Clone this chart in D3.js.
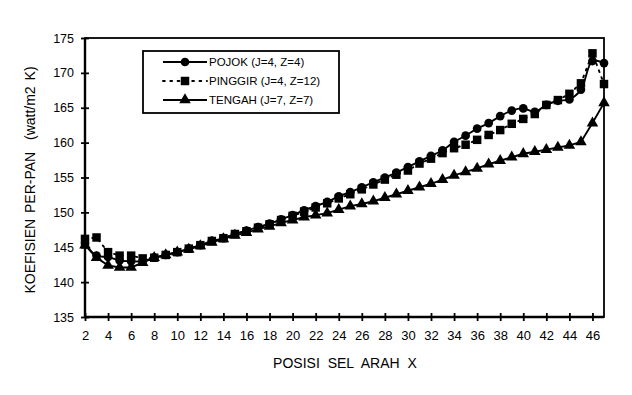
<html>
<style>
body { margin: 0; background: #fff; }
text { font-family: "Liberation Sans", Arial, sans-serif; fill: #000; }
.axis .domain { display: none; }
</style>
<body>
<script src="https://cdn.jsdelivr.net/npm/d3@7"></script>
<script>

var posisi = d3.range(2, 48); // 2..47

var pojok = [145.5, 143.8, 143.6, 143.1, 143.0, 143.0, 143.5, 143.9, 144.3, 144.8,
             145.3, 145.9, 146.3, 146.9, 147.4, 147.9, 148.4, 149.0, 149.6, 150.3,
             150.9, 151.5, 152.3, 152.9, 153.6, 154.3, 155.0, 155.7, 156.5, 157.3,
             158.1, 158.9, 160.1, 161.0, 162.0, 162.8, 163.8, 164.6, 164.9, 164.4,
             165.4, 166.0, 166.2, 167.6, 171.7, 171.4];

var pinggir = [146.2, 146.4, 144.3, 143.8, 143.8, 143.4, 143.5, 143.9, 144.3, 144.8,
               145.3, 145.9, 146.3, 146.9, 147.3, 147.8, 148.3, 148.9, 149.5, 150.1,
               150.7, 151.3, 152.0, 152.6, 153.3, 154.0, 154.7, 155.4, 156.0, 157.0,
               157.7, 158.5, 159.2, 159.7, 160.4, 161.1, 161.8, 162.7, 163.4, 164.1,
               165.4, 166.1, 167.0, 168.5, 172.8, 168.4];

var tengah = [145.3, 143.5, 142.4, 142.1, 142.1, 142.8, 143.5, 143.9, 144.3, 144.7,
              145.2, 145.7, 146.2, 146.7, 147.1, 147.6, 148.0, 148.5, 148.9, 149.3,
              149.6, 149.9, 150.4, 150.9, 151.2, 151.6, 152.1, 152.6, 153.1, 153.6,
              154.1, 154.7, 155.3, 155.8, 156.3, 156.9, 157.4, 157.9, 158.4, 158.7,
              159.0, 159.3, 159.6, 160.1, 162.8, 165.7];

var xTicks = d3.range(2, 47, 2);
var yTicks = d3.range(135, 176, 5);

var seriesNames = ["POJOK (J=4, Z=4)", "PINGGIR (J=4, Z=12)", "TENGAH (J=7, Z=7)"];

var series = [
  { name: seriesNames[0], values: pojok, symbol: d3.symbolCircle, size: 60, dash: null, curve: d3.curveCatmullRom },
  { name: seriesNames[1], values: pinggir, symbol: d3.symbolSquare, size: 72, dash: "1.8,5.5", curve: d3.curveLinear },
  { name: seriesNames[2], values: tengah, symbol: d3.symbolTriangle, size: 58, dash: null, curve: d3.curveLinear }
];

var W = 632, H = 395;
var margin = {top: 38, right: 28, bottom: 78, left: 85},
    width = W - margin.left - margin.right,
    height = H - margin.top - margin.bottom;

var svg = d3.select("body").append("svg")
    .attr("width", W)
    .attr("height", H);
var g = svg.append("g").attr("transform", "translate(" + margin.left + "," + margin.top + ")");

var x = d3.scaleLinear().domain([2, 47]).range([0, width]);
var y = d3.scaleLinear().domain([135, 175]).range([height, 0]);

// frame
g.append("rect")
    .attr("x", 0).attr("y", 0)
    .attr("width", width).attr("height", height)
    .attr("fill", "none")
    .attr("stroke", "#000")
    .attr("stroke-width", 1.8);
g.append("line").attr("x1", 0).attr("x2", 0).attr("y1", 0).attr("y2", height)
    .attr("stroke", "#000").attr("stroke-width", 2.4);
g.append("line").attr("x1", 0).attr("x2", width).attr("y1", height).attr("y2", height)
    .attr("stroke", "#000").attr("stroke-width", 2.4);

// axes
var yAxis = g.append("g")
    .attr("class", "axis")
    .call(d3.axisLeft(y).tickValues(yTicks).tickSize(4).tickPadding(7));
yAxis.selectAll(".tick line").attr("x1", -4).attr("x2", 4).attr("stroke-width", 1.8);
yAxis.selectAll("text").attr("font-size", 12.5);

var xAxis = g.append("g")
    .attr("class", "axis")
    .attr("transform", "translate(0," + height + ")")
    .call(d3.axisBottom(x).tickValues(xTicks).tickSize(4).tickPadding(10));
xAxis.selectAll(".tick line").attr("y1", -4).attr("y2", 4).attr("stroke-width", 1.8);
xAxis.selectAll("text").attr("font-size", 13);

// axis titles
svg.append("text")
    .attr("transform", "translate(35," + (margin.top + 142) + ") rotate(-90)")
    .attr("text-anchor", "middle")
    .attr("font-size", 14)
    .attr("word-spacing", 2)
    .text("KOEFISIEN PER-PAN  (watt/m2 K)")
    .style("white-space", "pre");

svg.append("text")
    .attr("x", 345)
    .attr("y", 368)
    .attr("text-anchor", "middle")
    .attr("font-size", 14)
    .attr("word-spacing", 4)
    .text("POSISI SEL ARAH X");

// lines and markers
series.forEach(function(s) {
  var line = d3.line()
      .x(function(d, i) { return x(posisi[i]); })
      .y(function(d) { return y(d); })
      .curve(s.curve);

  g.append("path")
      .datum(s.values)
      .attr("fill", "none")
      .attr("stroke", "#000")
      .attr("stroke-width", 1.9)
      .attr("stroke-linecap", s.dash ? "round" : "butt")
      .attr("stroke-dasharray", s.dash)
      .attr("d", line);

  g.append("g").selectAll("path")
      .data(s.values)
      .enter().append("path")
      .attr("transform", function(d, i) { return "translate(" + x(posisi[i]) + "," + y(d) + ")"; })
      .attr("d", d3.symbol().type(s.symbol).size(s.size))
      .attr("fill", "#000");
});

// legend
var lg = svg.append("g").attr("transform", "translate(143,51)");
lg.append("rect")
    .attr("width", 196).attr("height", 62)
    .attr("fill", "#fff")
    .attr("stroke", "#000")
    .attr("stroke-width", 1.8);

var item = lg.selectAll(".item")
    .data(series)
    .enter().append("g")
    .attr("class", "item")
    .attr("transform", function(d, i) { return "translate(0," + (11 + i * 19) + ")"; });

item.append("line")
    .attr("x1", 20).attr("x2", 64)
    .attr("stroke", "#000")
    .attr("stroke-width", 1.9)
    .attr("stroke-linecap", function(d) { return d.dash ? "round" : "butt"; })
    .attr("stroke-dasharray", function(d) { return d.dash; });

item.append("path")
    .attr("transform", "translate(42,0)")
    .attr("d", function(d) { return d3.symbol().type(d.symbol).size(d.size)(); })
    .attr("fill", "#000");

item.append("text")
    .attr("x", 66)
    .attr("dy", "0.35em")
    .attr("font-size", 11.5)
    .text(function(d) { return d.name; });

</script>
</body>
</html>
